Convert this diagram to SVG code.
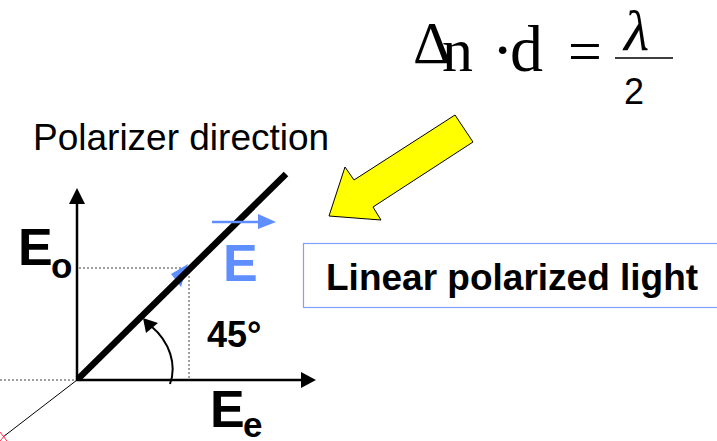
<svg xmlns="http://www.w3.org/2000/svg" width="717" height="441" viewBox="0 0 717 441">
<style>
.sans{font-family:"Liberation Sans",Arial,sans-serif}
.serif{font-family:"Liberation Serif","Times New Roman",serif}
.b{font-weight:bold}
.axis{stroke:#000;stroke-width:2.5;fill:none}
.dot{stroke:#808080;stroke-width:1.5;stroke-dasharray:2,2;fill:none}
</style>
<rect width="717" height="441" fill="#fff"/>
<g id="equation">
<text class="serif" x="413" y="63" font-size="60">Δ</text>
<text class="serif" x="442" y="71" font-size="62">n</text>
<text class="serif" x="492" y="71" font-size="64">·</text>
<text class="serif" x="510" y="71" font-size="66">d</text>
<text class="serif" x="568" y="71" font-size="60">=</text>
<text class="serif" x="624" y="50" font-size="58" font-style="italic">λ</text>
<line x1="615" y1="58" x2="673" y2="58" stroke="#000" stroke-width="1.3"/>
<text class="sans" x="624" y="104" font-size="36">2</text>
</g>
<g id="polarizer-label">
<text class="sans" x="33" y="150" font-size="37">Polarizer direction</text>
</g>
<g id="yellow-arrow">
<polygon points="455,115 473,142 373,207 381,220 329,216 345,167 354,180" fill="#FFFF00" stroke="#000" stroke-width="1"/>
</g>
<g id="linear-box">
<rect x="303.5" y="243.5" width="430" height="64" fill="#fff" stroke="#809FFF" stroke-width="1.2"/>
<text class="sans b" x="326" y="290" font-size="37">Linear polarized light</text>
</g>
<g id="connectors">
<line class="dot" x1="0" y1="380" x2="77" y2="380"/>
<line class="dot" x1="79" y1="268" x2="189" y2="268"/>
<line class="dot" x1="189" y1="268" x2="189" y2="379"/>
<line x1="77" y1="380" x2="3" y2="437" stroke="#000" stroke-width="1"/>
<line x1="0" y1="432" x2="7" y2="441" stroke="#ff3050" stroke-width="1"/>
<line x1="0" y1="441" x2="6" y2="434" stroke="#ff3050" stroke-width="1"/>
<line class="axis" x1="77" y1="381" x2="77" y2="200"/>
<polygon points="77,188 69,204 85,204" fill="#000"/>
<line class="axis" x1="76" y1="380" x2="303" y2="380"/>
<polygon points="316,380 301,372 301,388" fill="#000"/>
<polygon points="188,264 171,274 181,287" fill="#5F8FFF"/>
<line x1="78" y1="379" x2="286" y2="174" stroke="#000" stroke-width="6.5"/>
<line x1="212" y1="222" x2="262" y2="222" stroke="#5F8FFF" stroke-width="2.5"/>
<polygon points="276,222 258,214 258,229" fill="#5F8FFF"/>
<path d="M170,384 C177,365 170,342 151,326" fill="none" stroke="#000" stroke-width="2"/>
<polygon points="143,318 158,323 146,333" fill="#000"/>
</g>
<g id="labels">
<text class="sans b" x="18" y="265" font-size="52">E</text>
<text class="sans b" x="51" y="278" font-size="35">o</text>
<text class="sans b" x="223" y="281" font-size="52" fill="#5F8FFF">E</text>
<text class="sans b" x="207" y="347" font-size="36">45°</text>
<text class="sans b" x="210" y="427" font-size="52">E</text>
<text class="sans b" x="243" y="437" font-size="35">e</text>
</g>
</svg>
